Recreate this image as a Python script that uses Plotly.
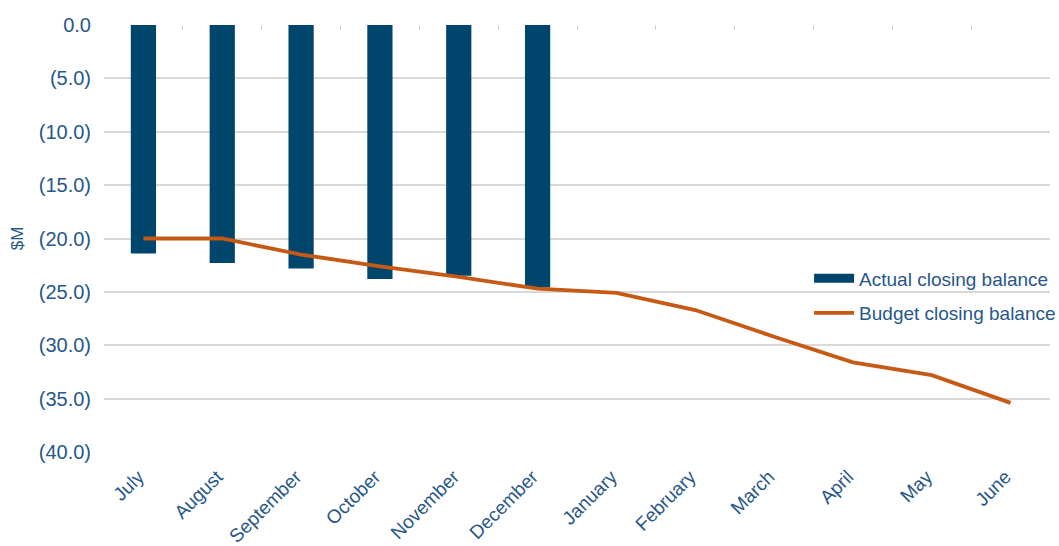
import plotly.graph_objects as go

months = ["July", "August", "September", "October", "November", "December",
          "January", "February", "March", "April", "May", "June"]
actual = [-21.4, -22.3, -22.8, -23.8, -23.5, -24.6]
budget = [-20.0, -20.0, -21.5, -22.6, -23.6, -24.7, -25.1, -26.7, -29.2, -31.6, -32.8, -35.4]
ytick_vals = [0, -5, -10, -15, -20, -25, -30, -35, -40]
ytick_text = ["0.0", "(5.0)", "(10.0)", "(15.0)", "(20.0)", "(25.0)", "(30.0)", "(35.0)", "(40.0)"]

txt = "#27588a"
bar_col = "#00456b"
line_col = "#c65a15"
fig = go.Figure()
fig.add_trace(go.Bar(x=months[:len(actual)], y=actual, name="Actual closing balance",
                     marker=dict(color=bar_col, line=dict(width=0)), width=0.32,
                     showlegend=False))
# legend entry drawn as a wide block, like the reference
fig.add_trace(go.Scatter(x=[None], y=[None], mode="lines", name="Actual closing balance",
                         line=dict(color=bar_col, width=9), legendgroup="a",
                         hoverinfo="skip"))
fig.add_trace(go.Scatter(x=months, y=budget, name="Budget closing balance", mode="lines",
                         line=dict(color=line_col, width=3.8), legendgroup="b"))
# top axis ticks at category boundaries (zero line)
fig.add_trace(go.Scatter(x=months, y=[None]*len(months), xaxis="x2", showlegend=False,
                         hoverinfo="skip"))

fig.update_layout(
    width=1059, height=546,
    margin=dict(l=104, r=9, t=25, b=94, autoexpand=False),
    paper_bgcolor="white", plot_bgcolor="white",
    font=dict(family="Liberation Sans, Arial, sans-serif", size=19, color=txt),
    xaxis=dict(categoryorder="array", categoryarray=months, tickangle=-45,
               showgrid=False, zeroline=False, showline=False, ticks="",
               ticklabelstandoff=9, ticklabelshift=-5, automargin=False,
               tickfont=dict(size=19, color=txt), range=[-0.5, 11.5]),
    xaxis2=dict(overlaying="x", matches="x", side="top", categoryorder="array",
                categoryarray=months, showticklabels=False, ticks="inside",
                tickson="boundaries", ticklen=5, tickcolor="#d0d0d0",
                showgrid=False, showline=False, zeroline=False, automargin=False),
    yaxis=dict(range=[-40, 0], tickvals=ytick_vals, ticktext=ytick_text,
               showgrid=True, gridcolor="#d9d9d9", gridwidth=1.5, zeroline=False,
               ticks="", ticklabelstandoff=12, automargin=False,
               title=dict(text="$M", font=dict(size=17, color=txt), standoff=10),
               tickfont=dict(size=20, color=txt)),
    legend=dict(xref="container", yref="container", x=0.764, y=0.525,
                xanchor="left", yanchor="top",
                bgcolor="rgba(0,0,0,0)", font=dict(size=19, color=txt),
                tracegroupgap=7, itemwidth=40),
    showlegend=True,
    bargap=0.68,
)
fig.write_html("out.html")
